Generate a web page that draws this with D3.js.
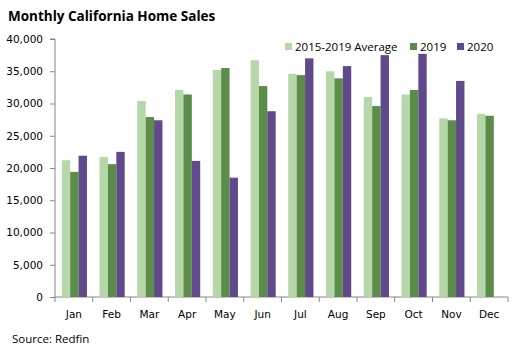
<!DOCTYPE html>
<html>
<head>
<meta charset="utf-8">
<script src="https://cdn.jsdelivr.net/npm/d3@7"></script>
<style>
  body { margin: 0; background: #fff; }
  .axis path, .axis line { stroke: #868686; }
  .axis text { font-family: "DejaVu Sans", sans-serif; font-size: 10.5px; fill: #000; }
</style>
</head>
<body>
<div id="chart"></div>
<script>
// data
const months = ["Jan","Feb","Mar","Apr","May","Jun","Jul","Aug","Sep","Oct","Nov","Dec"];
const seriesNames = ["2015-2019 Average", "2019", "2020"];
const avg2015_2019 = [21200, 21700, 30400, 32100, 35200, 36700, 34600, 35000, 31000, 31400, 27700, 28400];
const sales2019    = [19400, 20600, 27900, 31400, 35500, 32700, 34400, 33900, 29600, 32100, 27400, 28100];
const sales2020    = [21900, 22500, 27400, 21100, 18500, 28800, 37000, 35800, 37500, 37700, 33500, null];
const yTicks = [0, 5000, 10000, 15000, 20000, 25000, 30000, 35000, 40000];
const colors = ["#b6d7a8", "#5b8c4a", "#604a8b"];

const width = 518, height = 353;
const margin = {top: 39, left: 55, right: 10, bottom: 56};

const svg = d3.select("#chart")
    .append("svg")
    .attr("width", width)
    .attr("height", height);

const rows = months.map(function(m, i) {
    return {month: m, values: [avg2015_2019[i], sales2019[i], sales2020[i]]};
});

const xScale = d3.scaleBand()
    .domain(months)
    .range([margin.left, width - margin.right]);

const xInner = d3.scaleBand()
    .domain(d3.range(3))
    .range([0, xScale.bandwidth()])
    .paddingOuter(0.75)
    .paddingInner(0);

const yScale = d3.scaleLinear()
    .domain([0, 40000])
    .range([height - margin.bottom, margin.top]);

// axes
svg.append("g")
    .attr("class", "axis")
    .attr("transform", `translate(${margin.left},0)`)
    .call(d3.axisLeft(yScale).tickValues(yTicks).tickFormat(d3.format(",")).tickSize(5).tickPadding(7))
    .call(g => g.select(".domain").attr("d", `M-5,${yScale(40000)}H0V${yScale(0)}`));

// category boundaries for x ticks
const xAxis = svg.append("g")
    .attr("class", "axis")
    .attr("transform", `translate(0,${height - margin.bottom})`);

xAxis.append("line")
    .attr("x1", margin.left).attr("x2", width - margin.right)
    .attr("stroke", "#868686");

xAxis.selectAll(".bound")
    .data(months.concat(["end"]))
    .enter()
    .append("line")
        .attr("x1", (d, i) => i < months.length ? xScale(d) : xScale.range()[1])
        .attr("x2", (d, i) => i < months.length ? xScale(d) : xScale.range()[1])
        .attr("y1", 0).attr("y2", 5)
        .attr("stroke", "#868686");

xAxis.selectAll("text")
    .data(months)
    .enter()
    .append("text")
        .attr("x", d => xScale(d) + xScale.bandwidth() / 2)
        .attr("y", 21)
        .attr("text-anchor", "middle")
        .text(d => d);

// bars
const groups = svg.selectAll(".month")
    .data(rows)
    .enter()
    .append("g")
        .attr("transform", d => `translate(${xScale(d.month) + 0.5},0)`);

groups.selectAll("rect")
    .data(d => d.values.map((v, i) => ({i: i, v: v})).filter(e => e.v !== null))
    .enter()
    .append("rect")
        .attr("x", d => xInner(d.i))
        .attr("y", d => yScale(d.v))
        .attr("width", xInner.bandwidth())
        .attr("height", d => yScale(0) - yScale(d.v))
        .attr("fill", d => colors[d.i]);

// legend
const legendX = [285, 410, 457];
const legend = svg.selectAll(".legend")
    .data(seriesNames)
    .enter()
    .append("g")
        .attr("transform", (d, i) => `translate(${legendX[i]},47)`);

legend.append("rect")
    .attr("x", 0).attr("y", -4)
    .attr("width", 7).attr("height", 7)
    .attr("fill", (d, i) => colors[i]);

legend.append("text")
    .attr("x", 10).attr("y", 4)
    .style("font-family", "'Open Sans', sans-serif")
    .style("font-size", "11.5px")
    .text(d => d);

// title and source
svg.append("text")
    .attr("x", 8).attr("y", 21)
    .style("font-family", "'Open Sans', sans-serif")
    .style("font-weight", "bold")
    .style("font-size", "13.5px")
    .text("Monthly California Home Sales");

svg.append("text")
    .attr("x", 12).attr("y", 343)
    .style("font-family", "'Open Sans', sans-serif")
    .style("font-size", "11.5px")
    .text("Source: Redfin");
</script>
</body>
</html>
